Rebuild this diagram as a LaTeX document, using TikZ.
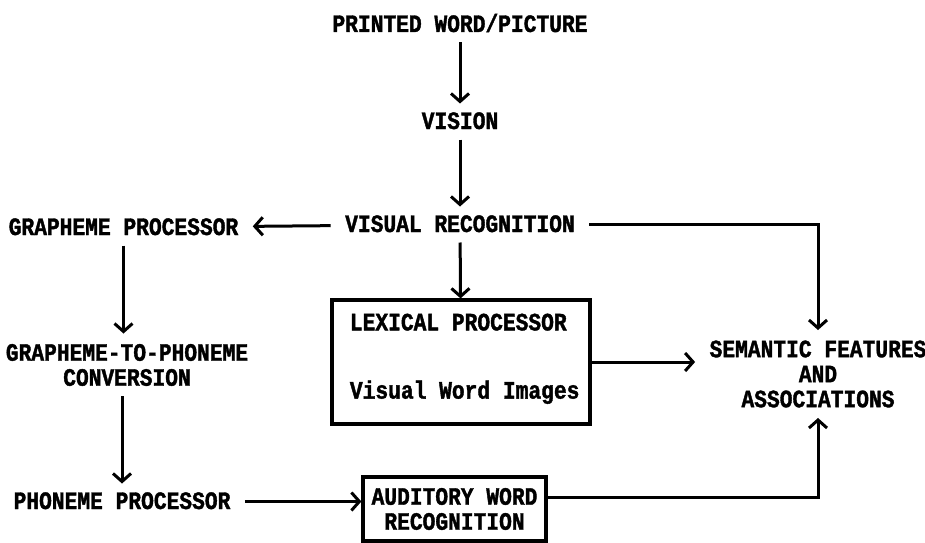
\documentclass[tikz,border=0pt]{standalone}
\usepackage{fontspec}
\newfontfamily\typewriter[FakeStretch=0.85,BoldFeatures={FakeBold=1.5}]{Liberation Mono}
\usetikzlibrary{arrows.meta,positioning}

\tikzset{
	word/.style={inner xsep=13pt,inner ysep=9pt},
	oneline/.style={word,text height=15pt,text depth=0pt},
	block/.style={draw,line width=3.2pt,inner sep=0pt}
}

\begin{document}
\begin{tikzpicture}[x=1pt,y=1pt,->,>={Straight Barb[length=8pt,width=18pt]},line width=3pt,
	node distance=100pt,font=\typewriter\bfseries\fontsize{25pt}{25pt}\selectfont]
	\useasboundingbox (0,0) rectangle (925,542);

	\node[oneline](printed) at (460,517.5){PRINTED WORD/PICTURE};
	\node[oneline](vision)[below of=printed,node distance=97pt]{VISION};
	\node[oneline](visrec)[below of=vision,node distance=103pt]{VISUAL RECOGNITION};
	\node[oneline](grapheme) at (123.5,314.5){GRAPHEME PROCESSOR};
	\node[word,align=center](g2p) at (127,177){GRAPHEME-TO-PHONEME\\CONVERSION};
	\node[oneline](phoneme) at (122,40.5){PHONEME PROCESSOR};
	\node[word,align=center](semantic) at (818,168){SEMANTIC FEATURES\\AND\\ASSOCIATIONS};

	% lexical processor with its two labels
	\node[block,minimum width=258pt,minimum height=124pt](lexical) at (461,180){};
	\node[anchor=base west,inner sep=0pt](lexhead) at ([shift={(18pt,-32pt)}]lexical.north west){LEXICAL PROCESSOR};
	\node[anchor=base west,inner sep=0pt](lexbody) at ([shift={(18pt,27pt)}]lexical.south west){Visual Word Images};

	\node[block,align=center,minimum width=183pt,minimum height=64pt](auditory) at (454.5,33){AUDITORY WORD\\RECOGNITION};

	\path (printed) edge (vision)
		  (vision) edge (visrec)
		  (visrec) edge (grapheme)
			  edge (lexical)
		  (grapheme) edge (grapheme |- g2p.north)
		  (phoneme |- g2p.south) edge (phoneme)
		  (phoneme) edge (phoneme -| auditory.west)
		  (lexical) edge (lexical -| semantic.west);
	\draw (visrec) -| (semantic);
	\draw ([yshift=12pt]auditory.east) -| (semantic);
\end{tikzpicture}
\end{document}
